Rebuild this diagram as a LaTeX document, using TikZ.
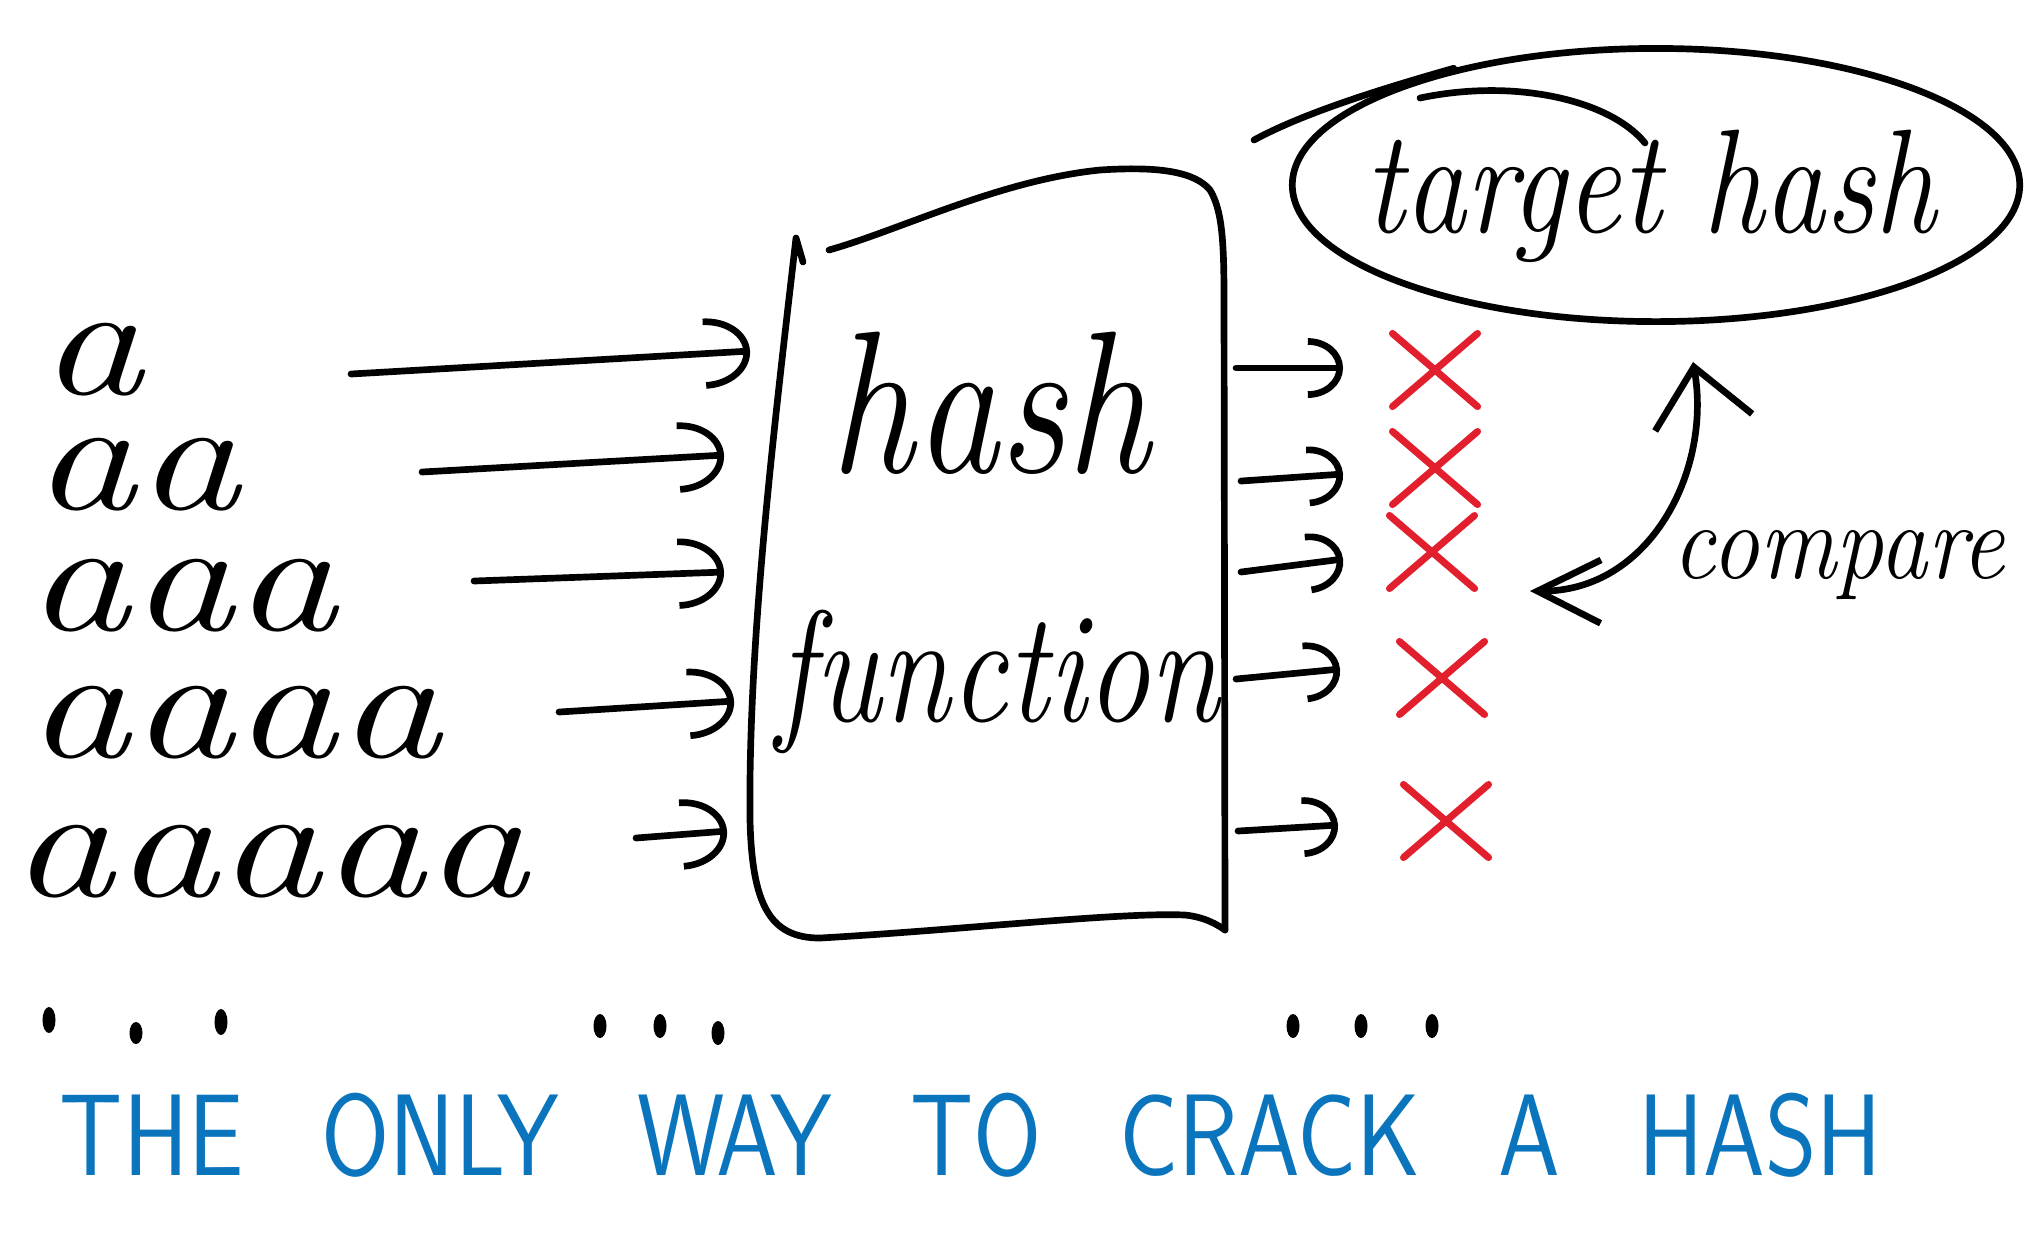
\documentclass[tikz,border=0pt]{standalone}
\usepackage{graphicx}
\usepackage{tikz}
\usetikzlibrary{arrows.meta,shapes.geometric,shapes.misc}
\definecolor{penred}{HTML}{E11F2D}
\definecolor{penblue}{HTML}{0A74BD}

\tikzset{
  pen/.style={line width=1.9pt, line cap=round, line join=round},
  inarrow/.style={pen, -{Arc Barb[length=13pt, width=20pt]}},
  outarrow/.style={pen, -{Arc Barb[length=10pt, width=17pt]}},
  word/.style={inner sep=0pt, anchor=base west, font=\fontsize{46}{46}\selectfont\itshape},
  xmark/.style={cross out, draw=penred, line width=2pt, line cap=round, minimum width=0.78cm, minimum height=0.66cm, inner sep=0pt},
}
\newcommand{\handw}[1]{\scalebox{1.28}[1]{#1}}

\begin{document}
\begin{tikzpicture}[x=0.01cm, y=-0.01cm]
    \useasboundingbox (0,0) rectangle (2037,1256);

    % candidate inputs
    \node[word] (in1) at (39,394) {\handw{a}};
    \node[word] (in2) at (32,509) {\handw{aa}};
    \node[word] (in3) at (26,630) {\handw{aaa}};
    \node[word] (in4) at (26,757) {\handw{aaaa}};
    \node[word] (in5) at (10,896) {\handw{aaaaa}};

    % the hash function box
    \draw[pen] (803,262) -- (796,238) .. controls (775,420) and (748,640) .. (750,820)
        .. controls (752,905) and (770,938) .. (820,938) .. controls (960,930) and (1120,912) .. (1185,915)
        .. controls (1205,917) and (1218,925) .. (1225,930);
    \draw[pen] (829,250) .. controls (900,230) and (1000,180) .. (1100,170)
        .. controls (1160,166) and (1195,172) .. (1210,190) .. controls (1222,210) and (1224,240) .. (1224,300) -- (1225,930);
    \node[font=\fontsize{48}{48}\selectfont\itshape, anchor=base] (hash) at (990,472) {\scalebox{1}[1.2]{hash}};
    \node[font=\fontsize{36}{36}\selectfont\itshape, anchor=base] (func) at (998,721) {\scalebox{1}[1.25]{function}};

    % arrows into the box
    \coordinate (s1) at (351,374); \coordinate (e1) at (750,351);
    \coordinate (s2) at (422,472); \coordinate (e2) at (724,455);
    \coordinate (s3) at (474,581); \coordinate (e3) at (724,572);
    \coordinate (s4) at (559,712); \coordinate (e4) at (734,701);
    \coordinate (s5) at (636,838); \coordinate (e5) at (727,831);
    \draw[inarrow] (s1) -- (e1);
    \draw[inarrow] (s2) -- (e2);
    \draw[inarrow] (s3) -- (e3);
    \draw[inarrow] (s4) -- (e4);
    \draw[inarrow] (s5) -- (e5);

    % outputs, none of them matching
    \coordinate (h1) at (1236,368); \coordinate (t1) at (1343,368);
    \coordinate (h2) at (1241,481); \coordinate (t2) at (1343,474);
    \coordinate (h3) at (1241,572); \coordinate (t3) at (1343,559);
    \coordinate (h4) at (1236,679); \coordinate (t4) at (1340,669);
    \coordinate (h5) at (1238,831); \coordinate (t5) at (1338,825);
    \draw[outarrow] (h1) -- (t1);
    \draw[outarrow] (h2) -- (t2);
    \draw[outarrow] (h3) -- (t3);
    \draw[outarrow] (h4) -- (t4);
    \draw[outarrow] (h5) -- (t5);
    \node[xmark] (no1) at (1435,370) {};
    \node[xmark] (no2) at (1435,468) {};
    \node[xmark] (no3) at (1432,552) {};
    \node[xmark] (no4) at (1442,678) {};
    \node[xmark] (no5) at (1446,821) {};

    % target hash
    \node[ellipse, draw, pen, minimum width=7.27cm, minimum height=2.73cm, inner sep=0pt] (target) at (1656,185) {};
    \node[font=\fontsize{35}{35}\selectfont\itshape, anchor=base, inner sep=0pt] (targettxt) at (1650,232) {\scalebox{1}[1.2]{target\,\,hash}};
    \coordinate (tail) at (1254,140);
    \draw[pen] (tail) .. controls (1300,115) and (1370,92) .. (target.150);
    \draw[pen] (1420,98) .. controls (1515,78) and (1610,100) .. (1645,143);

    % compare
    \coordinate (cmpTop) at (1693,362);
    \coordinate (cmpBot) at (1530,591);
    \draw[pen, {Straight Barb[length=16pt, width=28pt]}-{Straight Barb[length=18pt, width=18pt]}]
        (cmpTop) .. controls (1712,470) and (1650,592) .. (cmpBot);
    \node[font=\fontsize{31}{31}\selectfont\itshape, anchor=base west, inner sep=0pt] (cmp) at (1672,578) {\scalebox{0.88}[1]{compare}};

    % and so on
    \fill (49,1020) ellipse (0.065cm and 0.13cm) (136,1033) ellipse (0.065cm and 0.11cm) (221,1022) ellipse (0.065cm and 0.13cm);
    \fill (600,1026) ellipse (0.065cm and 0.12cm) (660,1026) ellipse (0.065cm and 0.12cm) (718,1033) ellipse (0.065cm and 0.12cm);
    \fill (1293,1026) ellipse (0.065cm and 0.12cm) (1361,1026) ellipse (0.065cm and 0.12cm) (1432,1026) ellipse (0.065cm and 0.12cm);

    \node[font=\fontsize{33}{33}\selectfont\sffamily, text=penblue, anchor=base, inner sep=0pt] (motto) at (971,1175)
        {\scalebox{0.85}[1]{THE\hspace{26pt}ONLY\hspace{26pt}WAY\hspace{26pt}TO\hspace{26pt}CRACK\hspace{26pt}A\hspace{26pt}HASH}};
\end{tikzpicture}
\end{document}
